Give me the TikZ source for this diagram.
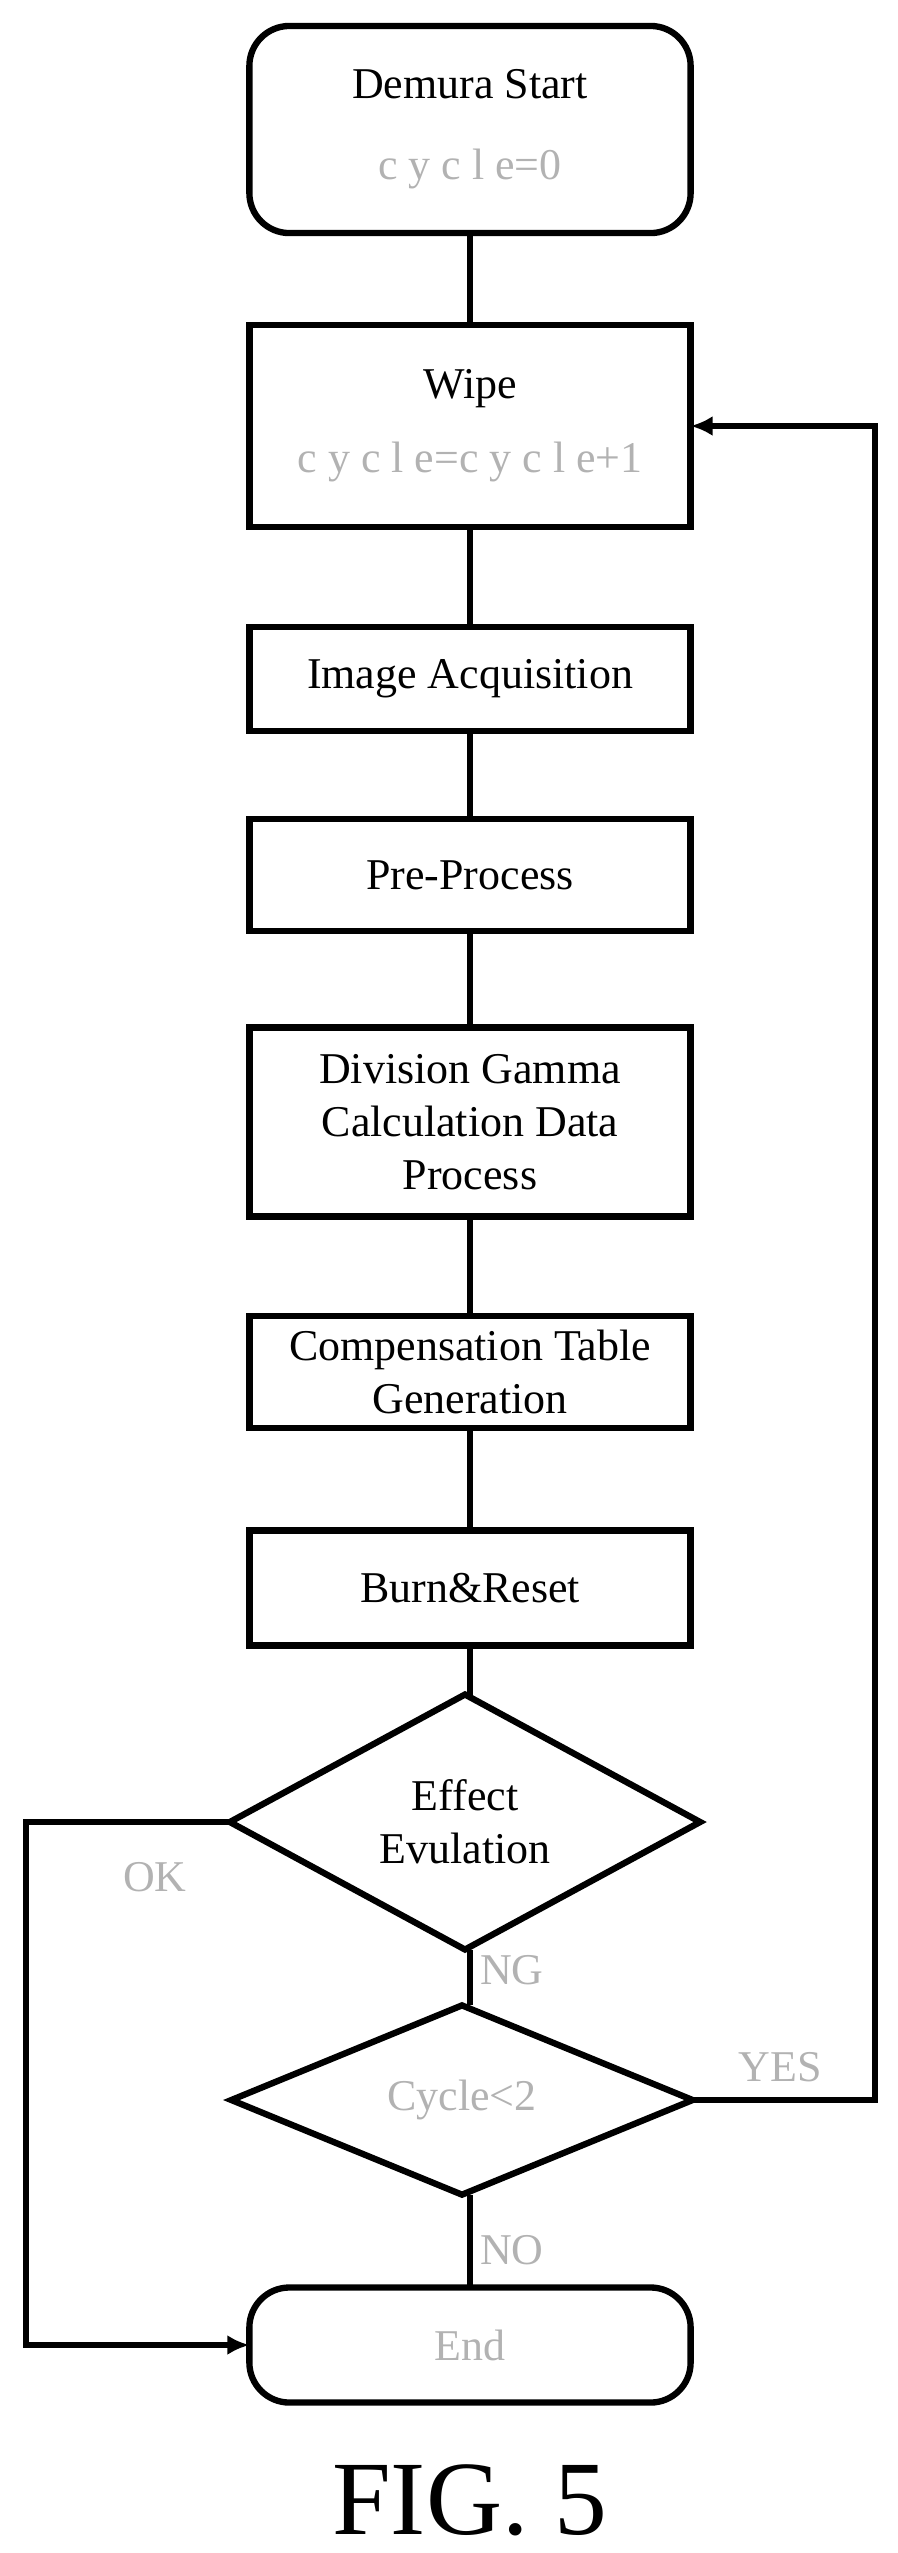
\documentclass[tikz,border=0pt]{standalone}
\usepackage{fontspec}
\setmainfont{Liberation Serif}
\usetikzlibrary{shapes.geometric,arrows.meta}
\begin{document}
\begin{tikzpicture}[x=0.01cm,y=-0.01cm,
		font=\fontsize{12.5}{15}\selectfont,
		line width=1.8pt,
		every node/.style={outer sep=0pt},
		proc/.style={draw,rectangle,minimum width=4.41cm,align=center,inner sep=0pt},
		term/.style={proc,rounded corners=0.4cm},
		test/.style={draw,diamond,inner sep=0pt,align=center},
		lab/.style={text=gray!60},
		arr/.style={-{Latex[length=2.2mm,width=2mm]}}]
		\useasboundingbox (0,0) rectangle (898,2553);
		\node [term,minimum height=2.07cm] (start) at (470,129.5) {Demura Start\\[8pt]\textcolor{gray!60}{c y c l e=0}};
		\node [proc,minimum height=2.02cm] (wipe) at (470,426) {Wipe\\[6pt]\textcolor{gray!60}{c y c l e=c y c l e+1}};
		\node [proc,minimum height=1.04cm] (acq) at (470,679) {Image Acquisition};
		\node [proc,minimum height=1.12cm] (pre) at (470,875) {Pre-Process};
		\node [proc,minimum height=1.89cm] (div) at (470,1122) {Division Gamma\\Calculation Data\\Process};
		\node [proc,minimum height=1.12cm] (comp) at (470,1372) {Compensation Table\\Generation};
		\node [proc,minimum height=1.15cm] (burn) at (470,1588) {Burn\&Reset};
		\node [test,minimum width=4.7cm,minimum height=1.82cm] (eff) at (465,1822) {Effect\\Evulation};
		\node [test,minimum width=4.61cm,minimum height=1.79cm] (cyc) at (462,2100) {\textcolor{gray!60}{Cycle<2}};
		\node [term,minimum height=1.15cm] (end) at (470,2345) {\textcolor{gray!60}{End}};
		\coordinate (right) at (875,2100);
		\coordinate (left) at (26,1822);
		\draw (start) -- (wipe);
		\draw (wipe) -- (acq);
		\draw (acq) -- (pre);
		\draw (pre) -- (div);
		\draw (div) -- (comp);
		\draw (comp) -- (burn);
		\draw (burn.south) -- (eff.north -| burn.south);
		\draw (eff.south -| burn.south) -- (cyc.north -| burn.south);
		\draw (cyc.south -| burn.south) -- (end);
		\draw [arr] (cyc.east) -- (right) |- (wipe.east);
		\draw [arr] (eff.west) -- (left) |- (end.west);
		\node [lab] (ok) at (155,1877) {OK};
		\node [lab] (ng) at (512,1970) {NG};
		\node [lab] (yes) at (780,2067) {YES};
		\node [lab] (no) at (512,2250) {NO};
		\node [font=\fontsize{30}{34}\selectfont] (fig) at (470,2500) {FIG. 5};
	\end{tikzpicture}
\end{document}
